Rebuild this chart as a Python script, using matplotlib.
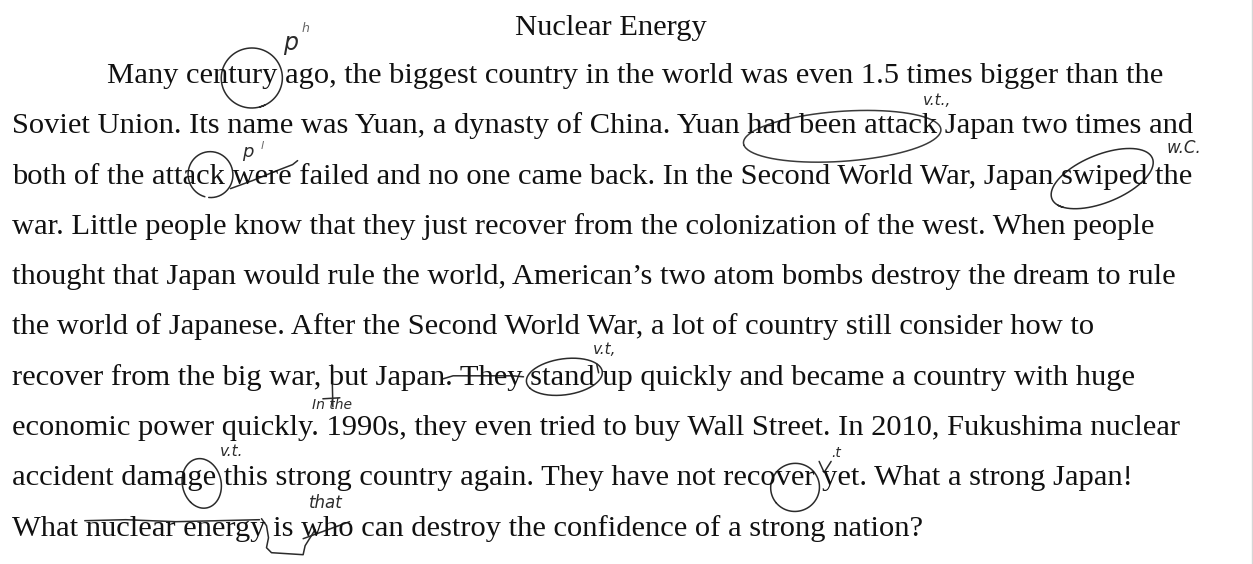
import matplotlib
matplotlib.use("Agg")
import matplotlib.pyplot as plt
from matplotlib.font_manager import FontProperties
import numpy as np

W, H = 1253, 564
TITLE = "Nuclear Energy"
LINES = [
    "Many century ago, the biggest country in the world was even 1.5 times bigger than the",
    "Soviet Union. Its name was Yuan, a dynasty of China. Yuan had been attack Japan two times and",
    "both of the attack were failed and no one came back. In the Second World War, Japan swiped the",
    "war. Little people know that they just recover from the colonization of the west. When people",
    "thought that Japan would rule the world, American\u2019s two atom bombs destroy the dream to rule",
    "the world of Japanese. After the Second World War, a lot of country still consider how to",
    "recover from the big war, but Japan. They stand up quickly and became a country with huge",
    "economic power quickly. 1990s, they even tried to buy Wall Street. In 2010, Fukushima nuclear",
    "accident damage this strong country again. They have not recover yet. What a strong Japan!",
    "What nuclear energy is who can destroy the confidence of a strong nation?",
]
NOTES = ["p", "h", "v.t.,", "p", "l", "w.C.", "v.t,", "In the", "v.t.", ".t", "that"]

LEFT, INDENT = 12, 107
BASE0, STEP = 83, 50.3
TITLE_X, TITLE_BASE = 611, 35
TARGET_W = 1180
INK = "#111111"
PEN = "#2b2b2b"

fig = plt.figure(figsize=(W / 100, H / 100), dpi=100)
ax = fig.add_axes([0, 0, 1, 1])
ax.set_xlim(0, W)
ax.set_ylim(H, 0)
ax.axis("off")
fig.patch.set_facecolor("white")
r = fig.canvas.get_renderer()

fp = FontProperties(family="Liberation Serif", size=20)


def tw(s, prop=None):
    if not s:
        return 0.0
    w, h, d = r.get_text_width_height_descent(s, prop or fp, ismath=False)
    return w


size = 20 * TARGET_W / tw(LINES[1])
fp = FontProperties(family="Liberation Serif", size=size)

xs = [INDENT if i == 0 else LEFT for i in range(len(LINES))]
bases = [BASE0 + STEP * i for i in range(len(LINES))]

ax.text(TITLE_X, TITLE_BASE, TITLE, fontproperties=fp, ha="center", va="baseline", color=INK)
for i, s in enumerate(LINES):
    ax.text(xs[i], bases[i], s, fontproperties=fp, ha="left", va="baseline", color=INK)


def span(i, sub, last=False):
    s = LINES[i]
    idx = s.rfind(sub) if last else s.find(sub)
    end = idx + len(sub)
    x1 = xs[i] + tw(s[:end])
    x0 = x1 - tw(sub)
    return x0, x1, bases[i]


def loop(cx, cy, w, h, ang=0, t0=0, t1=380, lw=1.1, color=PEN):
    t = np.radians(np.linspace(t0, t1, 160))
    x = w / 2 * np.cos(t)
    y = h / 2 * np.sin(t)
    a = np.radians(ang)
    ax.plot(cx + x * np.cos(a) - y * np.sin(a), cy + x * np.sin(a) + y * np.cos(a),
            color=color, lw=lw, solid_capstyle="round")


def stroke(pts, lw=1.1, color=PEN):
    p = np.array(pts, dtype=float)
    ax.plot(p[:, 0], p[:, 1], color=color, lw=lw, solid_capstyle="round", solid_joinstyle="round")


def hand(x, y, s, sz, color=PEN):
    ax.text(x, y, s, fontsize=sz, family="DejaVu Sans", style="italic", fontweight="light",
            color=color, ha="left", va="center")


# line 0: circled "tury"
x0, x1, b = span(0, "tury")
loop((x0 + x1) / 2 - 1, b - 5, x1 - x0 + 12, 60, ang=-5, t0=70, t1=440)
hand(x1 + 6, b - 40, NOTES[0], 17)
hand(x1 + 24, b - 55, NOTES[1], 9, color="#666666")

# line 1: circled "had been attack"
x0, x1, b = span(1, "had been attack")
loop((x0 + x1) / 2, b + 3, x1 - x0 + 8, 50, ang=-4, t0=175, t1=535, color="#3a3a3a")
hand(x1 - 14, b - 33, NOTES[2], 11)

# line 2: "ck" of attack, struck "were"
x0, x1, b = span(2, "ck")
loop((x0 + x1) / 2, b - 9, x1 - x0 + 16, 46, ang=-15, t0=120, t1=470)
w0, w1, _ = span(2, "were")
stroke([(w0 - 2, b + 5), (w0 + 20, b - 3), (w0 + 42, b - 12), (w1 + 1, b - 19), (w1 + 6, b - 23)])
hand(w0 + 10, b - 32, NOTES[3], 13)
hand(w0 + 28, b - 38, NOTES[4], 8, color="#666666")

# line 2: circled "swiped"
x0, x1, b = span(2, "swiped")
loop((x0 + x1) / 2 - 2, b - 5, x1 - x0 + 22, 48, ang=-22, t0=150, t1=520)
t0_, t1_, _ = span(2, "the", last=True)
hand(t0_ + 12, b - 36, NOTES[5], 12)

# line 6: insertion, struck "They", circled "stand"
bx0, bx1, b = span(6, "but")
stroke([(bx0 + 3, b - 20), (bx0 + 4, b + 22)])
stroke([(bx0 - 6, b + 14), (bx0 + 11, b + 13)])
p0, _, _ = span(6, ". They")
_, ty1, _ = span(6, "They")
stroke([(p0 - 2, b - 6), (p0 + 8, b - 9), (ty1 - 10, b - 9), (ty1 + 1, b - 8)])
x0, x1, b = span(6, "stand")
loop((x0 + x1) / 2 + 2, b - 8, x1 - x0 + 12, 36, ang=-8, t0=160, t1=520)
stroke([(x1 + 2, b - 21), (x1 + 4, b - 12)])
hand(x1 - 2, b - 35, NOTES[6], 11)

# line 7: inserted "In the"
nx0, _, b = span(7, "1990s")
hand(nx0 - 14, b - 30, NOTES[7], 10)

# line 8: circled "ge", circled "ver", mark on "yet"
x0, x1, b = span(8, "ge")
loop((x0 + x1) / 2, b - 2, x1 - x0 + 10, 50, ang=-12, t0=140, t1=500)
hand(x1 + 4, b - 34, NOTES[8], 11)
x0, x1, b = span(8, "ver")
loop((x0 + x1) / 2, b + 2, x1 - x0 + 10, 48, ang=-20, t0=160, t1=520)
yx0, _, _ = span(8, "yet")
stroke([(yx0 - 3, b - 24), (yx0 + 2, b - 13), (yx0 + 9, b - 24)])
hand(yx0 + 9, b - 32, NOTES[9], 10)

# line 9: overline on "nuclear energy", loop, struck "who"
nx0, nx1, b = span(9, "nuclear energy")
stroke([(nx0 - 1, b - 15), (nx0 + 40, b - 16), (nx0 + 90, b - 14), (nx1 - 6, b - 16)])
ix0, ix1, _ = span(9, " is ")
wx0, wx1, _ = span(9, "who")
stroke([(nx1 - 4, b - 17), (nx1 + 1, b - 10), (nx1 + 3, b + 2), (nx1 + 1, b + 12),
        (nx1 + 6, b + 17), (ix1 + 2, b + 19), (wx0 + 4, b + 10), (wx0 + 14, b - 6)])
stroke([(wx0 + 2, b + 3), (wx1 - 4, b - 14)])
hand(wx0 + 8, b - 33, NOTES[10], 12)

# faint scan border on the right
ax.plot([W - 1.5, W - 1.5], [0, H], color="#d6d6d6", lw=1)

fig.savefig("out.png", dpi=100, facecolor="white")
